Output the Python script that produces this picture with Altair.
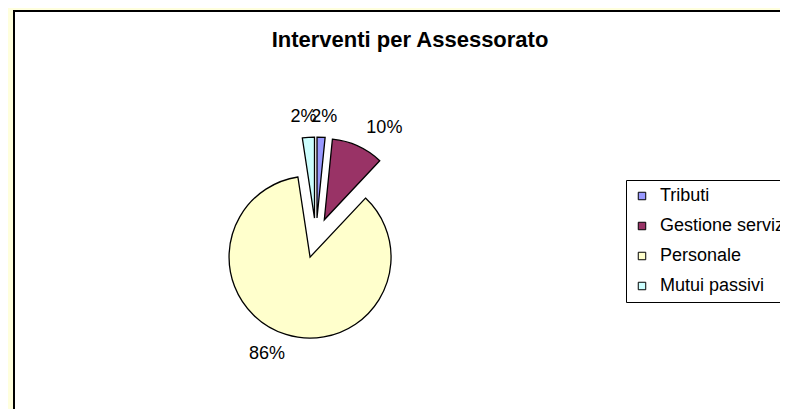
import altair as alt
import pandas as pd

# ---- data ----
categories = ["Tributi", "Gestione servizi", "Personale", "Mutui passivi"]
values = [1.6, 10.4, 85.6, 2.4]
colors = ["#9999FF", "#993366", "#FFFFCC", "#CCFFFF"]
title_text = ["Interventi per Assessorato"]

df = pd.DataFrame({"cat": categories, "value": values, "idx": list(range(len(categories)))})
title_df = pd.DataFrame({"t": title_text})

# ---- layout (view coordinates) ----
W, H = 767, 399
CX, CY = 303, 228
R = 81
xs = alt.Scale(domain=[-CX, W - CX], nice=False, zero=False)
ys = alt.Scale(domain=[-(H - CY), CY], nice=False, zero=False)
FONT = "Liberation Sans"

base = (
    alt.Chart(df)
    .transform_joinaggregate(total="sum(value)")
    .transform_window(cum="sum(value)", sort=[alt.SortField("idx")], frame=[None, 0])
    .transform_calculate(start="(datum.cum - datum.value) / datum.total * 2 * PI")
    .transform_calculate(end="datum.cum / datum.total * 2 * PI")
    .transform_calculate(mid="(datum.cum - datum.value / 2) / datum.total * 2 * PI")
    .transform_calculate(pct="datum.value / datum.total")
    .transform_calculate(ex="20 * sin(datum.mid)", ey="20 * cos(datum.mid)")
    .transform_calculate(lx="165 * sin(datum.mid)", ly="121 * cos(datum.mid)")
)

arcs = base.mark_arc(radius=R, stroke="black", strokeWidth=1.3).encode(
    x=alt.X("ex:Q", scale=xs, axis=None),
    y=alt.Y("ey:Q", scale=ys, axis=None),
    theta=alt.Theta("start:Q", scale=None),
    theta2="end:Q",
    color=alt.Color(
        "cat:N",
        scale=alt.Scale(domain=categories, range=colors),
        sort=categories,
        legend=alt.Legend(
            title=None,
            orient="none",
            legendX=613,
            legendY=170,
            symbolType="square",
            symbolSize=56,
            symbolStrokeColor="black",
            symbolStrokeWidth=1,
            labelFont=FONT,
            labelFontSize=18,
            labelColor="black",
            labelOffset=9,
            labelLimit=400,
            rowPadding=12,
            padding=7,
            strokeColor="black",
            fillColor="white",
        ),
    ),
)

labels = base.mark_text(font=FONT, fontSize=18, color="black").encode(
    x=alt.X("lx:Q", scale=xs, axis=None),
    y=alt.Y("ly:Q", scale=ys, axis=None),
    text=alt.Text("pct:Q", format=".0%"),
)

title = alt.Chart(title_df).mark_text(
    font=FONT, fontSize=22, fontWeight="bold", baseline="alphabetic", color="black"
).encode(x=alt.value(397), y=alt.value(37), text="t:N")

left_border = alt.Chart(title_df).mark_rule(color="black", strokeWidth=2).encode(
    x=alt.value(1), y=alt.value(0), y2=alt.value(H + 5)
)
top_border = alt.Chart(title_df).mark_rule(color="black", strokeWidth=2).encode(
    x=alt.value(0), x2=alt.value(W + 5), y=alt.value(1)
)

chart = (
    alt.layer(arcs, labels, title, left_border, top_border)
    .properties(
        width=W,
        height=H,
        autosize=alt.AutoSizeParams(type="none"),
        padding={"left": 5, "top": 2, "right": 0, "bottom": 0},
        background="#FFFFDD",
    )
    .configure_view(stroke="transparent", strokeWidth=0, fill="white")
)

chart.save("out.html", embed_options={"renderer": "svg", "actions": False})
